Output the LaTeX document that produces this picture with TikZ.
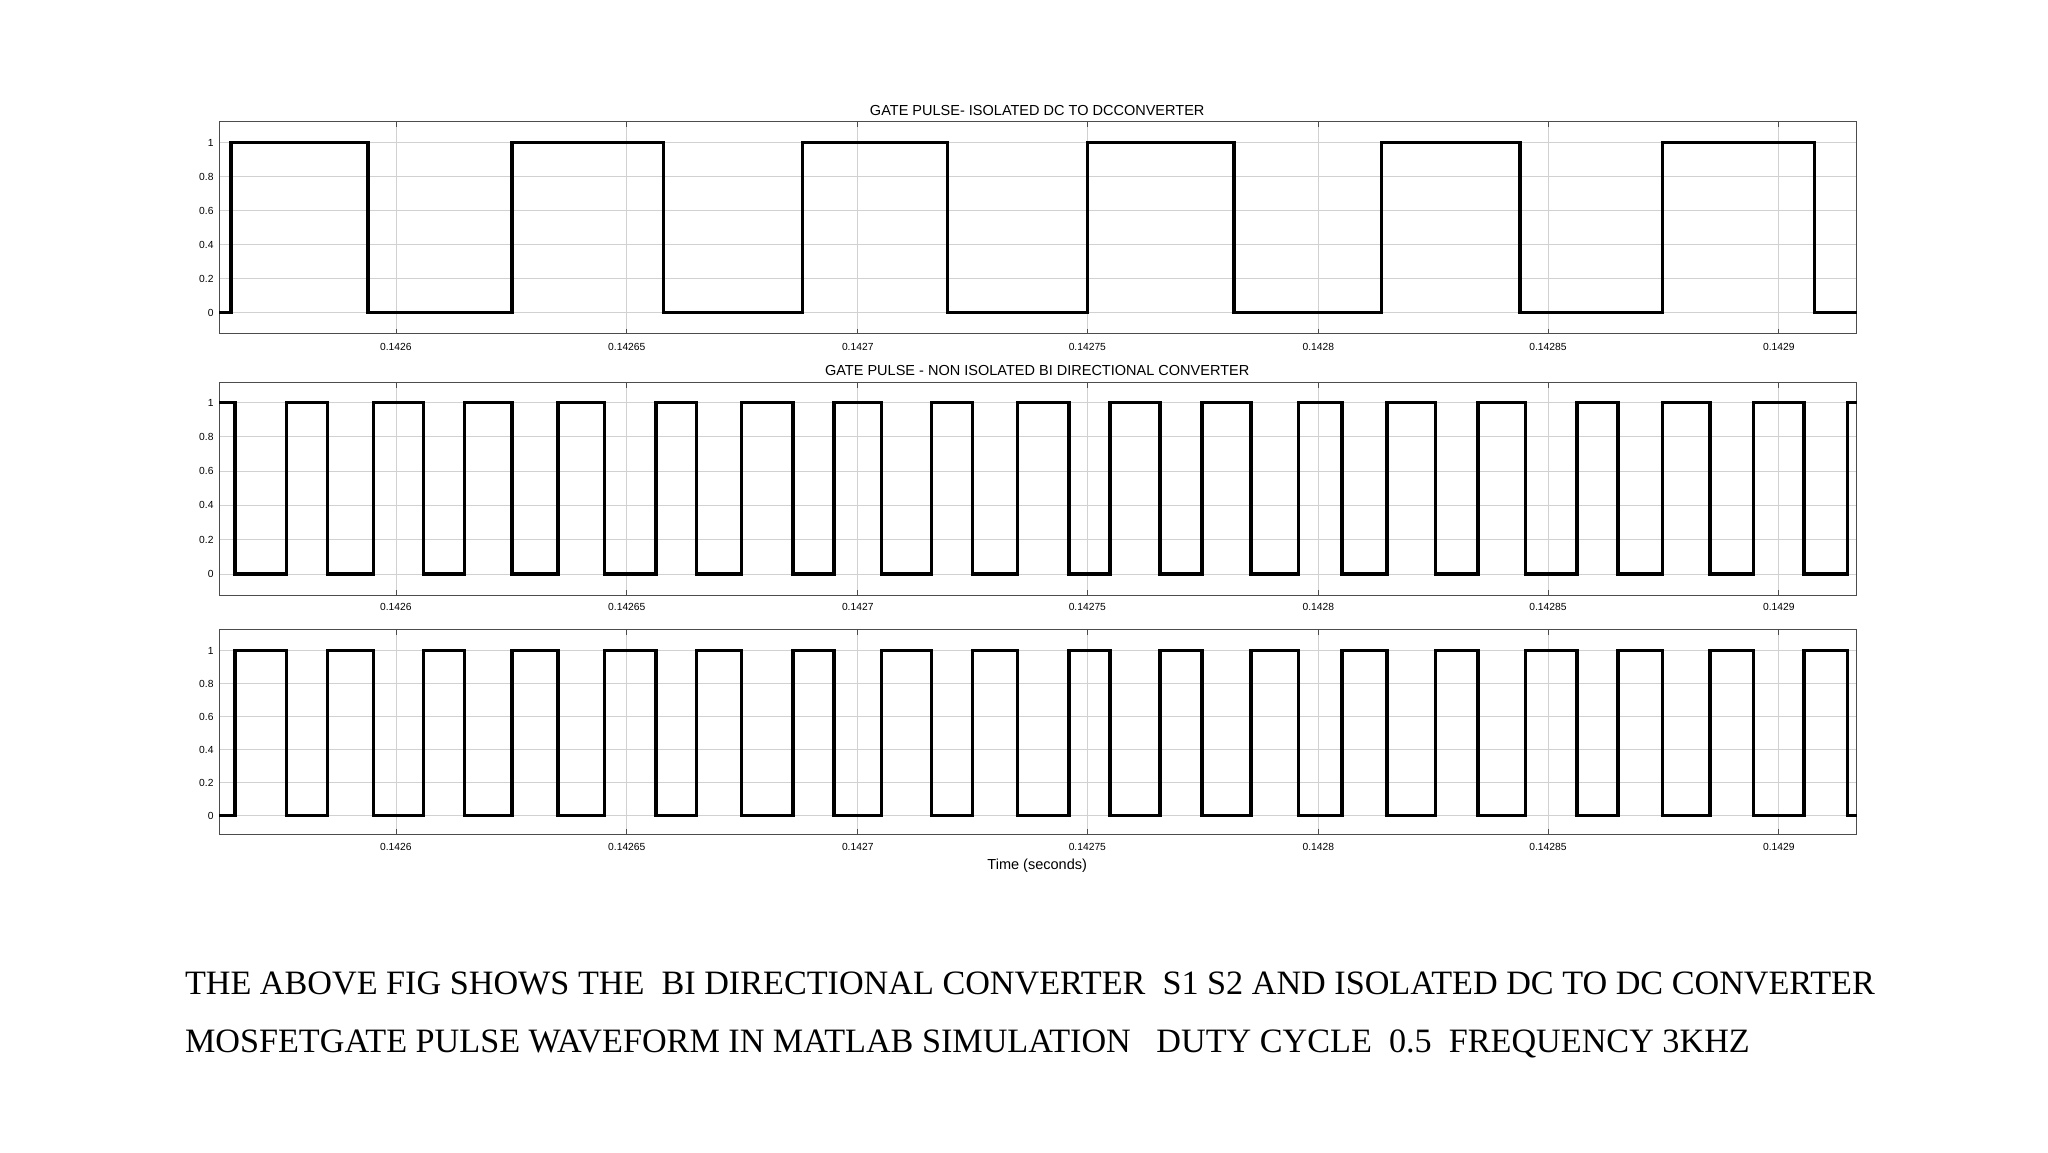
\documentclass[tikz,border=0pt]{standalone}
\usepackage{fontspec}
\setmainfont{Liberation Serif}
\newfontfamily\axf{Liberation Sans}
\begin{document}
\begin{tikzpicture}[x=1pt,y=-1pt,
  wave/.style={line width=2.6pt,line join=miter},
  frame/.style={draw=black!70,line width=0.6pt},
  grd/.style={draw=black!18,line width=0.5pt},
  tlab/.style={font=\axf\fontsize{7.8}{8}\selectfont,inner sep=1pt},
  ttl/.style={font=\axf\fontsize{11}{12}\selectfont,inner sep=1pt},
  captxt/.style={font=\fontsize{25.9}{28}\selectfont,anchor=west,inner sep=0pt}]
\useasboundingbox (0,0) rectangle (1552,873);
\foreach \i/\T/\B/\yo/\yz/\lab in {1/92/253/108/237/263, 2/290/451/305/435/460, 3/477/632/493/618/642}{
  \pgfmathsetmacro\dy{(\yz-\yo)/5}
  \foreach \k/\v in {0/0,1/0.2,2/0.4,3/0.6,4/0.8,5/1}{
    \pgfmathsetmacro\yy{\yz-\k*\dy}
    \draw[grd] (166,\yy) -- (1407,\yy);
    \node[tlab,anchor=east] (yl\i\k) at (163,\yy) {\v};
  }
  \foreach \x/\t in {300/0.1426,475/0.14265,650/0.1427,824/0.14275,999/0.1428,1173/0.14285,1348/0.1429}{
    \draw[grd] (\x,\T) -- (\x,\B);
    \draw[black!70,line width=0.5pt] (\x,\B) -- (\x,\B-4) (\x,\T) -- (\x,\T+4);
    \node[tlab] (xl\i\x) at (\x,\lab) {\t};
  }
  \draw[frame] (166,\T) rectangle (1407,\B);
}
\node[ttl] (t1) at (786,84) {GATE PULSE- ISOLATED DC TO DCCONVERTER};
\node[ttl] (t2) at (786,281) {GATE PULSE - NON ISOLATED BI DIRECTIONAL CONVERTER};
\node[ttl] (t3) at (786,656) {Time (seconds)};
\draw[wave] (166,237) -| (175,108) -| (279,237) -| (388,108) -| (503,237) -| (608,108) -| (718,237) -| (824,108) -| (935,237) -| (1047,108) -| (1152,237) -| (1260,108) -| (1375,237) -- (1407,237);
\draw[wave] (166,305) -| (178,435) -| (217,305) -| (248,435) -| (283,305) -| (321,435) -| (352,305) -| (388,435) -| (423,305) -| (458,435) -| (497,305) -| (528,435) -| (562,305) -| (601,435) -| (632,305) -| (668,435) -| (706,305) -| (737,435) -| (771,305) -| (810,435) -| (841,305) -| (879,435) -| (911,305) -| (948,435) -| (984,305) -| (1017,435) -| (1051,305) -| (1088,435) -| (1120,305) -| (1156,435) -| (1195,305) -| (1226,435) -| (1260,305) -| (1296,435) -| (1329,305) -| (1367,435) -| (1400,305) -- (1407,305);
\draw[wave] (166,618) -| (178,493) -| (217,618) -| (248,493) -| (283,618) -| (321,493) -| (352,618) -| (388,493) -| (423,618) -| (458,493) -| (497,618) -| (528,493) -| (562,618) -| (601,493) -| (632,618) -| (668,493) -| (706,618) -| (737,493) -| (771,618) -| (810,493) -| (841,618) -| (879,493) -| (911,618) -| (948,493) -| (984,618) -| (1017,493) -| (1051,618) -| (1088,493) -| (1120,618) -| (1156,493) -| (1195,618) -| (1226,493) -| (1260,618) -| (1296,493) -| (1329,618) -| (1367,493) -| (1400,618) -- (1407,618);
\node[captxt] (c1) at (140,745) {THE ABOVE FIG SHOWS THE\ \ BI DIRECTIONAL CONVERTER\ \ S1 S2 AND ISOLATED DC TO DC CONVERTER};
\node[captxt] (c2) at (140,791) {MOSFETGATE PULSE WAVEFORM IN MATLAB SIMULATION\ \ \ DUTY CYCLE\ \ 0.5\ \ FREQUENCY 3KHZ};
\end{tikzpicture}
\end{document}
